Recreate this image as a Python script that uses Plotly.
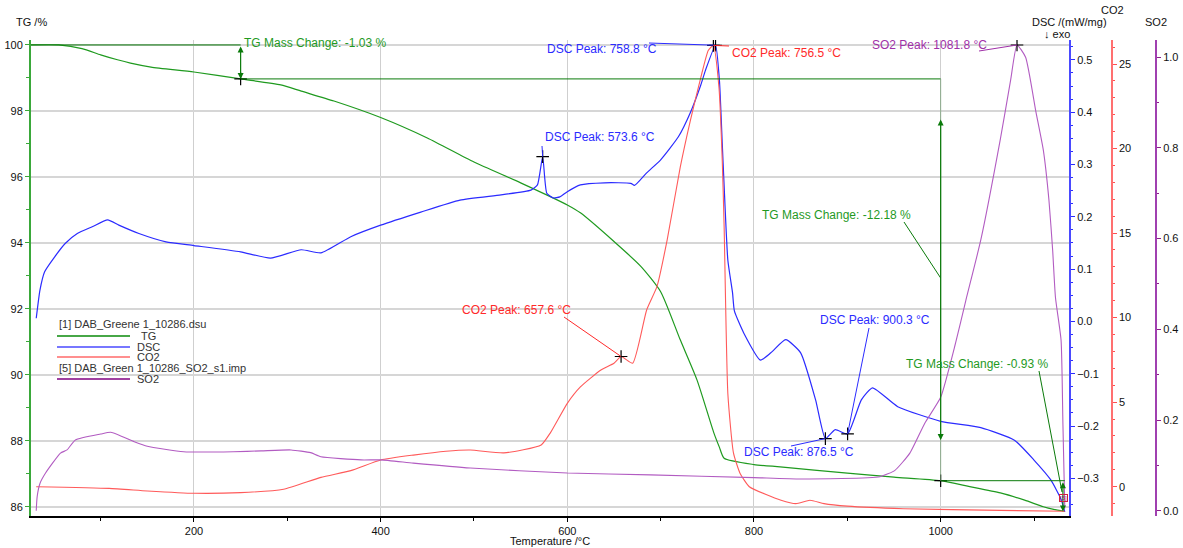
import plotly.graph_objects as go

# ---------------- data ----------------
tg_T = [25, 55, 80, 100, 118, 132, 154, 200, 250, 293, 315, 350, 400, 450, 500, 550, 600, 614, 650, 679,
        700, 721, 739, 757, 763, 768, 800, 828, 900, 950, 1000, 1030, 1064, 1090, 1110, 1121, 1133]
tg_v = [100.0, 100.0, 99.89, 99.7, 99.55, 99.45, 99.33, 99.18, 98.97, 98.79, 98.6, 98.3, 97.8, 97.18, 96.45,
        95.82, 95.15, 94.91, 94.04, 93.28, 92.52, 91.06, 89.84, 88.24, 87.8, 87.47, 87.28, 87.21, 87.02, 86.9,
        86.79, 86.62, 86.42, 86.2, 86.0, 85.92, 85.86]

dsc_T = [31, 35, 40, 51, 62, 75, 91, 107.5, 119.5, 141, 170, 200, 250, 282, 315, 336, 368, 400, 443, 485, 529,
         561, 568, 573.6, 578, 585, 592, 600, 614, 640, 668, 672, 685, 700, 719, 732, 743, 748, 758.8, 763, 766,
         768, 772, 777, 779, 789, 807, 818, 834, 850, 866, 876.5, 887, 900.3, 915, 927, 954, 1000, 1043, 1079,
         1100, 1118, 1129, 1133]
dsc_v = [0.006, 0.06, 0.095, 0.124, 0.149, 0.168, 0.181, 0.194, 0.184, 0.168, 0.152, 0.145, 0.133, 0.121, 0.137,
         0.131, 0.162, 0.184, 0.209, 0.232, 0.242, 0.251, 0.261, 0.315, 0.245, 0.236, 0.238, 0.248, 0.261, 0.265,
         0.264, 0.26, 0.284, 0.309, 0.353, 0.40, 0.452, 0.48, 0.528, 0.46, 0.34, 0.26, 0.117, 0.055, 0.02, -0.022,
         -0.074, -0.06, -0.035, -0.06, -0.15, -0.224, -0.207, -0.215, -0.15, -0.127, -0.163, -0.191, -0.203,
         -0.227, -0.265, -0.303, -0.34, -0.364]

co2_T = [31, 109, 150, 200, 250, 296, 336, 368, 400, 435, 470, 496, 532, 572, 582, 600, 614, 636, 650, 657.6,
         670, 685, 696, 707, 721, 732, 743, 751, 756.5, 762.5, 766, 768, 772, 778, 785, 795, 829, 845, 860, 875,
         900, 960, 1064, 1133]
co2_v = [0.0, -0.1, -0.25, -0.39, -0.35, -0.15, 0.55, 0.95, 1.58, 1.87, 2.1, 2.17, 2.0, 2.47, 3.2, 4.93, 5.9,
         6.9, 7.3, 7.7, 7.3, 10.45, 11.83, 14.6, 18.9, 21.7, 24.2, 25.8, 26.1, 23.6, 19.3, 15.4, 5.5, 2.0, 0.8,
         0.0, -0.8, -1.0, -0.8, -1.0, -1.15, -1.3, -1.4, -1.45]

so2_T = [31, 32, 35, 41, 57, 64, 73, 100, 111, 136, 150, 189, 242, 272, 304, 325, 336, 379, 400, 435, 496, 600,
         689, 800, 850, 935, 951, 967, 983, 1000, 1016, 1027, 1043, 1064, 1075, 1081.8, 1091, 1102, 1110, 1116,
         1120, 1123, 1129, 1131, 1133]
so2_v = [0.0, 0.031, 0.06, 0.083, 0.127, 0.134, 0.156, 0.169, 0.173, 0.152, 0.142, 0.13, 0.13, 0.132, 0.134,
         0.128, 0.119, 0.112, 0.112, 0.105, 0.094, 0.083, 0.079, 0.073, 0.07, 0.075, 0.089, 0.127, 0.193, 0.25,
         0.37, 0.464, 0.597, 0.82, 0.95, 1.027, 1.0, 0.88, 0.795, 0.685, 0.574, 0.47, 0.376, 0.19, 0.005]

# peaks
dsc_peak_T = [573.6, 758.8, 876.5, 900.3]
dsc_peak_v = [0.315, 0.528, -0.224, -0.215]
co2_peak_T = [657.6, 756.5]
co2_peak_v = [7.7, 26.1]
so2_peak_T = [1081.8]
so2_peak_v = [1.027]
tg_step_T = [250, 1000, 1133]
tg_step_v = [98.97, 86.79, 85.86]
tg_changes = ["-1.03", "-12.18", "-0.93"]

x_ticks = [200, 400, 600, 800, 1000]

# ---------------- layout geometry ----------------
W, H = 1183, 548
ML, MR, MT, MB = 31, 20, 40, 32
PW, PH = W - ML - MR, H - MT - MB
XR = [25.4, 1137.5]
R_TG = [85.72, 100.15]
R_DSC = [-0.372, 0.538]
R_CO2 = [-1.733, 26.42]
R_SO2 = [-0.0117, 1.038]
XDOM_R = (1069 - ML) / PW

FONT = "Liberation Sans, Arial, sans-serif"
C_TG = "#1f9a1f"
C_TG_D = "#0a7a0a"
C_DSC = "#2b2bff"
C_CO2 = "#ff5a5a"
C_SO2 = "#b25cc2"
C_SO2_AX = "#a040b0"


def px(xp):
    return (xp - ML) / PW


def py(yp):
    return (H - MB - yp) / PH


def xv(xp):
    return XR[0] + (xp - ML) / (1069 - ML) * (XR[1] - XR[0])


def yv(yp, r):
    return r[0] + (H - MB - yp) / PH * (r[1] - r[0])


fig = go.Figure()
fig.add_trace(go.Scatter(x=tg_T, y=tg_v, mode="lines", line=dict(color=C_TG, width=1.2, shape="spline",
                                                                   smoothing=0.6), yaxis="y", name="TG"))
fig.add_trace(go.Scatter(x=dsc_T, y=dsc_v, mode="lines", line=dict(color=C_DSC, width=1.2, shape="spline",
                                                                     smoothing=0.5), yaxis="y2", name="DSC"))
fig.add_trace(go.Scatter(x=co2_T, y=co2_v, mode="lines", line=dict(color=C_CO2, width=1.1, shape="spline",
                                                                     smoothing=0.5), yaxis="y3", name="CO2"))
fig.add_trace(go.Scatter(x=so2_T, y=so2_v, mode="lines", line=dict(color=C_SO2, width=1.1, shape="spline",
                                                                     smoothing=0.5), yaxis="y4", name="SO2"))

cross = dict(symbol="cross-thin", size=9, line=dict(color="black", width=1.2))
fig.add_trace(go.Scatter(x=dsc_peak_T, y=dsc_peak_v, mode="markers", marker=cross, yaxis="y2"))
fig.add_trace(go.Scatter(x=co2_peak_T, y=co2_peak_v, mode="markers", marker=cross, yaxis="y3"))
fig.add_trace(go.Scatter(x=so2_peak_T, y=so2_peak_v, mode="markers", marker=cross, yaxis="y4"))
fig.add_trace(go.Scatter(x=tg_step_T[:2], y=tg_step_v[:2], mode="markers", marker=cross, yaxis="y"))

shapes = []
annots = []


def seg(x0, y0, x1, y1, yref, color, width=1, xref="x"):
    shapes.append(dict(type="line", xref=xref, yref=yref, x0=x0, y0=y0, x1=x1, y1=y1,
                       line=dict(color=color, width=width)))


def text(xp, yp, s, color, size=12, xanchor="left"):
    annots.append(dict(xref="paper", yref="paper", x=px(xp), y=py(yp), text=s, showarrow=False,
                       xanchor=xanchor, yanchor="middle", font=dict(family=FONT, size=size, color=color)))


def arrow2(x, y0, y1, color):
    annots.append(dict(xref="x", yref="y", axref="x", ayref="y", x=x, y=y1, ax=x, ay=y0, text="",
                       showarrow=True, arrowhead=2, arrowsize=1, arrowwidth=1.2, arrowside="end+start",
                       arrowcolor=color, standoff=0, startstandoff=0))


# TG step lines
seg(tg_T[0], 100.0, tg_step_T[0], 100.0, "y", C_TG_D)
seg(tg_step_T[0], tg_step_v[0], tg_step_T[1], tg_step_v[0], "y", C_TG_D)
seg(tg_step_T[1], tg_step_v[1], tg_step_T[2], tg_step_v[1], "y", C_TG_D)
seg(tg_step_T[1], tg_step_v[0], tg_step_T[1], tg_step_v[1], "y", "#7aa07a", 0.8)
arrow2(tg_step_T[0], 100.0, tg_step_v[0], C_TG_D)
arrow2(tg_step_T[1], yv(118, R_TG), yv(440, R_TG), C_TG_D)
arrow2(1131, tg_step_v[1], tg_step_v[2], C_TG_D)

text(242, 43, "TG Mass Change: %s %%" % tg_changes[0], C_TG)
text(760, 215, "TG Mass Change: %s %%" % tg_changes[1], C_TG)
text(904, 364, "TG Mass Change: %s %%" % tg_changes[2], C_TG)
seg(xv(904), yv(222, R_TG), tg_step_T[1], yv(278, R_TG), "y", C_TG_D)
seg(xv(1039), yv(371, R_TG), xv(1062), yv(492, R_TG), "y", C_TG_D)

# peak labels
text(543, 137, "DSC Peak: 573.6 °C", C_DSC)
seg(xv(542), yv(146, R_DSC), dsc_peak_T[0], dsc_peak_v[0], "y2", C_DSC)
text(545, 49, "DSC Peak: 758.8 °C", C_DSC)
seg(xv(649), yv(43, R_DSC), dsc_peak_T[1], dsc_peak_v[1], "y2", C_DSC)
text(818, 320, "DSC Peak: 900.3 °C", C_DSC)
seg(xv(869), yv(328, R_DSC), dsc_peak_T[3], dsc_peak_v[3], "y2", C_DSC)
text(742, 452, "DSC Peak: 876.5 °C", C_DSC)
seg(xv(791), yv(446, R_DSC), dsc_peak_T[2], dsc_peak_v[2], "y2", C_DSC)
text(730, 53, "CO2 Peak: 756.5 °C", "#ff2a2a")
seg(xv(729), yv(46, R_CO2), co2_peak_T[1], co2_peak_v[1], "y3", "#ff2a2a")
text(460, 310, "CO2 Peak: 657.6 °C", "#ff2a2a")
seg(xv(564), yv(317, R_CO2), co2_peak_T[0], co2_peak_v[0], "y3", "#ff2a2a")
text(870, 45, "SO2 Peak: 1081.8 °C", "#a030a8")
seg(xv(979), yv(51, R_SO2), so2_peak_T[0], so2_peak_v[0], "y4", "#a030a8")

# legend (drawn)
text(57, 324, "[1] DAB_Greene 1_10286.dsu", "#333333", 11)
text(57, 368, "[5] DAB_Green 1_10286_SO2_s1.imp", "#333333", 11)
for yp, lab, col in [(336, "TG", "#0a8a0a"), (347, "DSC", "#4a4aff"), (357, "CO2", "#ff6a6a"),
                     (379, "SO2", "#800080")]:
    shapes.append(dict(type="line", xref="paper", yref="paper", x0=px(57), x1=px(130), y0=py(yp), y1=py(yp),
                       line=dict(color=col, width=1.5)))
    text(148, yp, lab, "#333333", 11, "center")

# small end marker
annots.append(dict(xref="paper", yref="paper", x=px(1063), y=py(498), text="[5]", showarrow=False,
                   font=dict(family=FONT, size=6, color="#a02060"), bordercolor="#d02040", borderwidth=1,
                   borderpad=0, xanchor="center", yanchor="middle"))

# axis titles
text(31, 22, "TG /%", "#111111", 11, "center")
text(1069, 22, "DSC /(mW/mg)", "#111111", 11, "center")
text(1042, 34, "↓ exo", "#111111", 11)
text(1112, 10, "CO2", "#111111", 11, "center")
text(1156, 22, "SO2", "#111111", 11, "center")
text(550, 540.5, "Temperature /°C", "#111111", 11, "center")

tickfont = dict(family=FONT, size=11, color="#111111")
fig.update_layout(
    template="none",
    width=W, height=H, margin=dict(l=ML, r=MR, t=MT, b=MB, autoexpand=False),
    paper_bgcolor="white", plot_bgcolor="white", showlegend=False,
    font=dict(family=FONT, size=12),
    xaxis=dict(domain=[0, XDOM_R], range=XR, tickvals=x_ticks, showgrid=True, gridcolor="#cfcfcf",
               gridwidth=1.3, zeroline=False, showline=True, linecolor="black", linewidth=1.5,
               ticks="outside", ticklen=4, tickcolor="black", tickfont=tickfont, automargin=False,
               minor=dict(dtick=100, tick0=0, ticks="outside", ticklen=3, tickcolor="black", showgrid=False)),
    yaxis=dict(range=R_TG, dtick=2, tick0=0, showgrid=True, gridcolor="#d6d6d6", gridwidth=1.5,
               zeroline=False, showline=True, linecolor="#3aa83a", linewidth=2, ticks="outside", ticklen=4,
               tickcolor="#3aa83a", tickfont=tickfont, automargin=False,
               minor=dict(dtick=1, ticks="outside", ticklen=3, tickcolor="#3aa83a", showgrid=False)),
    yaxis2=dict(range=R_DSC, overlaying="y", side="right", anchor="x", dtick=0.1, tick0=0, tickformat=".1f",
                showgrid=False, zeroline=False, showline=True, linecolor="#4a4aff", linewidth=2,
                ticks="outside", ticklen=4, tickcolor="#2b2bff", tickfont=tickfont, automargin=False,
                minor=dict(dtick=0.025, tick0=0, ticks="outside", ticklen=2, tickcolor="#2b2bff")),
    yaxis3=dict(range=R_CO2, overlaying="y", side="right", anchor="free", position=(1112 - ML) / PW,
                dtick=5, tick0=0, showgrid=False, zeroline=False, showline=True, linecolor="#ff7070",
                linewidth=1.5, ticks="outside", ticklen=4, tickcolor="#ff5050", tickfont=tickfont,
                automargin=False,
                minor=dict(dtick=1, tick0=0, ticks="outside", ticklen=2, tickcolor="#ff5050")),
    yaxis4=dict(range=R_SO2, overlaying="y", side="right", anchor="free", position=(1156 - ML) / PW,
                dtick=0.2, tick0=0, tickformat=".1f", showgrid=False, zeroline=False, showline=True,
                linecolor=C_SO2_AX, linewidth=2, ticks="outside", ticklen=4, tickcolor="#8a208a",
                tickfont=tickfont, automargin=False,
                minor=dict(dtick=0.1, tick0=0, ticks="outside", ticklen=2, tickcolor="#8a208a")),
    shapes=shapes, annotations=annots,
)

fig.write_html("out.html")
